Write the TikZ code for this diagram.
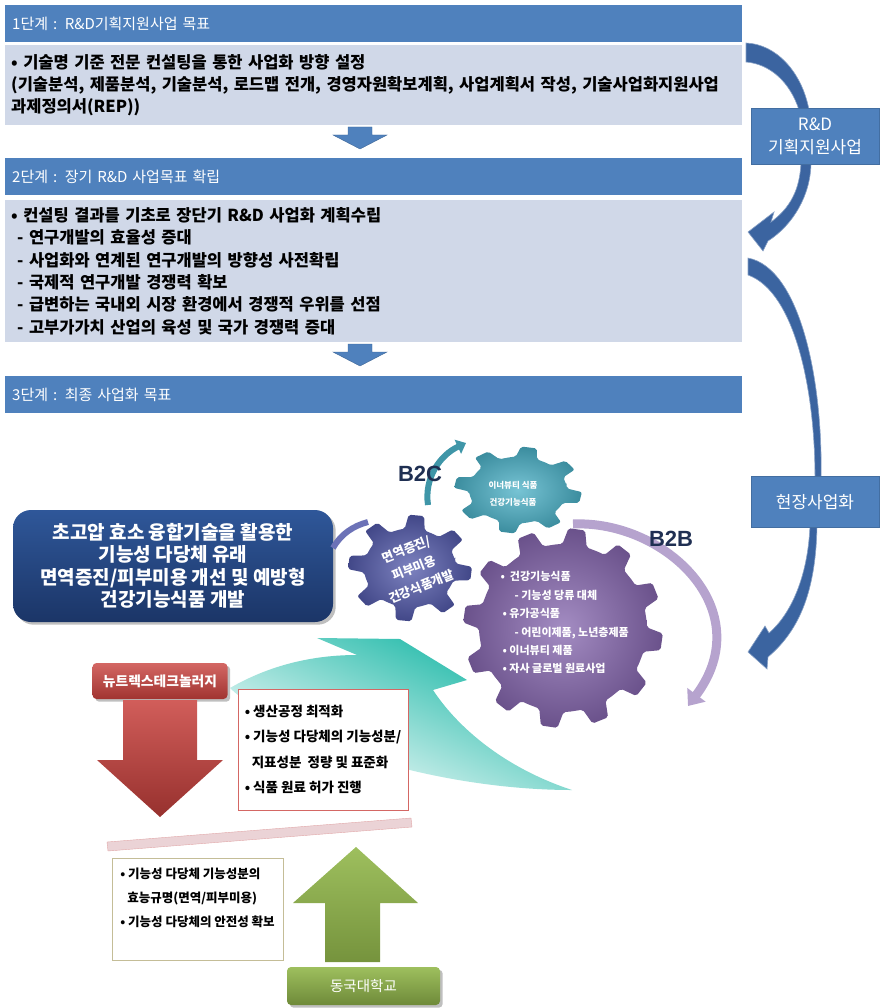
\documentclass[tikz,border=0pt]{standalone}
\usepackage{fontspec}
\setmainfont{Noto Sans CJK KR}
\newfontfamily\bizfont{Liberation Sans}
\usetikzlibrary{arrows.meta,shadows}

\definecolor{hdrblue}{HTML}{4F81BD}
\definecolor{boxgrey}{HTML}{D0D8E8}
\definecolor{bendblue}{HTML}{3B64A0}
\definecolor{navytop}{HTML}{2F5799}
\definecolor{navybot}{HTML}{1B3567}
\definecolor{cogblue}{HTML}{5259AA}
\definecolor{cogteal}{HTML}{4AB0C6}
\definecolor{cogpurple}{HTML}{8566AE}
\definecolor{mintteal}{HTML}{10B4A2}
\definecolor{bizink}{HTML}{1F2F52}
\definecolor{firmred}{HTML}{C9413D}
\definecolor{unigreen}{HTML}{93B84C}
\definecolor{barpink}{HTML}{EBD3D6}
\definecolor{olivegrey}{HTML}{C4BD97}

% gear outline: teeth, inner radius, outer radius, path options
\newcommand{\cog}[4]{%
  \pgfmathsetmacro{\cogstep}{360/#1}
  \path[#4] (0:#2) \foreach \k in {1,...,#1}{
      -- ({(\k-0.88)*\cogstep}:#2)
      -- ({(\k-0.76)*\cogstep}:#3)
      -- ({(\k-0.44)*\cogstep}:#3)
      -- ({(\k-0.32)*\cogstep}:#2)
      -- ({\k*\cogstep}:#2)
    } -- cycle;}

\begin{document}
\begin{tikzpicture}[x=1pt, y=-1pt,
  hdr/.style={fill=hdrblue, text=white, anchor=north west, text width=723pt,
    inner xsep=7pt, minimum height=37pt, align=left,
    font=\fontsize{15}{19}\selectfont},
  goal/.style={fill=boxgrey, anchor=north west, text width=725pt,
    inner xsep=6pt, align=left, font=\bfseries\fontsize{16.5}{22.3}\selectfont},
  side/.style={fill=hdrblue, draw=hdrblue!85!black, text=white, align=center,
    minimum width=128pt, font=\fontsize{17}{23}\selectfont},
  stagearrow/.style={fill=hdrblue, draw=hdrblue!80!black},
  bentarrow/.style={fill=bendblue, draw=bendblue!60!white, line width=.6pt},
  cogshade/.style={shade, inner color=#1!75!white, outer color=#1!80!black,
    rounded corners=2pt},
  biz/.style={text=bizink, font=\bizfont\bfseries\fontsize{22}{22}\selectfont},
  listbox/.style={fill=white, align=left, font=\bfseries\fontsize{13.5}{25.5}\selectfont}
]
\useasboundingbox (0,0) rectangle (881,1008);

% three stages
\node[hdr] (hd1) at (5,5) {1단계 : R\&D기획지원사업 목표};
\node[goal, minimum height=80pt] (goal1) at (5,45)
  {• 기술명 기준 전문 컨설팅을 통한 사업화 방향 설정\\
   (기술분석, 제품분석, 기술분석, 로드맵 전개, 경영자원확보계획, 사업계획서 작성, 기술사업화지원사업\\
   과제정의서(REP))};
\path[stagearrow] (348,127) -- (372,127) -- (372,135) -- (387,135) -- (360,149)
  -- (333,135) -- (348,135) -- cycle;
\node[hdr] (hd2) at (5,158) {2단계 : 장기 R\&D 사업목표 확립};
\node[goal, minimum height=142pt] (goal2) at (5,200)
  {• 컨설팅 결과를 기초로 장단기 R\&D 사업화 계획수립\\
   \hspace*{6pt}- 연구개발의 효율성 증대\\
   \hspace*{6pt}- 사업화와 연계된 연구개발의 방향성 사전확립\\
   \hspace*{6pt}- 국제적 연구개발 경쟁력 확보\\
   \hspace*{6pt}- 급변하는 국내외 시장 환경에서 경쟁적 우위를 선점\\
   \hspace*{6pt}- 고부가가치 산업의 육성 및 국가 경쟁력 증대};
\path[stagearrow] (348,344) -- (372,344) -- (372,352) -- (387,352) -- (360,366)
  -- (333,352) -- (348,352) -- cycle;
\node[hdr] (hd3) at (5,376) {3단계 : 최종 사업화 목표};

% bent arrows on the right
\path[bentarrow] (746,43) .. controls (776,44) and (802,72) .. (809,110) -- (799,110)
  .. controls (790,82) and (770,64) .. (746,62) -- cycle;
\path[bentarrow] (801,162) .. controls (800,190) and (790,208) .. (771,222) -- (774,212)
  -- (748,232) -- (763,251) -- (768,241) .. controls (793,225) and (811,195) .. (811,162) -- cycle;
\path[bentarrow] (748,258) .. controls (800,268) and (823,380) .. (821,478) -- (815,478)
  .. controls (815,390) and (795,292) .. (748,275) -- cycle;
\path[bentarrow] (810,525) .. controls (808,578) and (790,615) .. (769,633) -- (765,626)
  -- (748,652) -- (767,669) -- (768,657) .. controls (800,630) and (816,590) .. (817,525) -- cycle;
\node[side, minimum height=56pt] (rnd) at (815,136) {R\&D\\기획지원사업};
\node[side, minimum height=51pt] (field) at (815,502) {현장사업화};

% sweeping arrow behind the gears
\path[top color=mintteal, middle color=mintteal!45!white, bottom color=white,
  shading angle=-25]
  (317,638) -- (400,639) -- (467,680) -- (433,690)
  .. controls (458,728) and (505,768) .. (572,790)
  .. controls (440,790) and (290,745) .. (230,688)
  .. controls (275,662) and (320,655) .. (357,655) -- cycle;

\node[rounded corners=18pt, top color=navytop, bottom color=navybot, drop shadow,
  minimum width=320pt, minimum height=112pt, text=white, align=center,
  font=\bfseries\fontsize{19}{22.5}\selectfont] (aim) at (173,566)
  {초고압 효소 융합기술을 활용한\\기능성 다당체 유래\\면역증진/피부미용 개선 및 예방형\\건강기능식품 개발};
\draw[line width=6pt, cogblue!85!white] (333,548) .. controls (341,534) and (353,526) .. (368,522);

% gears
\begin{scope}[shift={(518,490)}, yscale=.68, rotate=8]
  \cog{8}{49}{64}{cogshade=cogteal}
\end{scope}
\begin{scope}[shift={(410,568)}, yscale=.86, rotate=12]
  \cog{8}{46}{62}{cogshade=cogblue}
\end{scope}
\begin{scope}[shift={(563,628)}, rotate=4]
  \cog{12}{84}{100}{cogshade=cogpurple}
\end{scope}
\node[text=white, rotate=22, align=center,
  font=\bfseries\fontsize{12.5}{20}\selectfont] (immune) at (414,568)
  {면역증진/\\피부미용\\건강식품개발};
\node[text=white, align=center, font=\bfseries\fontsize{8.5}{17}\selectfont]
  (beauty) at (513,494) {이너뷰티 식품\\건강기능식품};
\node[text=white, anchor=north west, align=left,
  font=\bfseries\fontsize{11}{18.4}\selectfont] (market) at (497,568)
  {•\ \ 건강기능식품\\
   \hspace*{14pt}- 기능성 당류 대체\\
   \hspace*{2pt}• 유가공식품\\
   \hspace*{14pt}- 어린이제품, 노년층제품\\
   \hspace*{2pt}• 이너뷰티 제품\\
   \hspace*{2pt}• 자사 글로벌 원료사업};

% B2C / B2B
\draw[line width=6pt, cogteal!85!black, -{Triangle[width=15pt,length=9pt]}]
  (428,505) .. controls (424,478) and (440,455) .. (466,443);
\draw[line width=9pt, cogpurple!60!white, -{Triangle[width=22pt,length=14pt]}]
  (573,524) .. controls (665,520) and (760,610) .. (688,706);
\node[biz] (b2c) at (420,474) {B2C};
\node[biz] (b2b) at (671,539) {B2B};

% company side
\node[rounded corners=4pt, top color=firmred!80!white, bottom color=firmred!80!black,
  drop shadow, minimum width=135pt, minimum height=36pt, text=white,
  font=\bfseries\fontsize{13.8}{15}\selectfont] (nutrex) at (160,681) {뉴트렉스테크놀러지};
\path[top color=firmred!85!white, bottom color=firmred!75!black]
  (123,700) -- (197,700) -- (197,760) -- (223,760) -- (160,817) -- (97,760)
  -- (123,760) -- cycle;
\node[listbox, draw=firmred!80, minimum width=170pt, minimum height=121pt]
  (process) at (323,749.5)
  {• 생산공정 최적화\\• 기능성 다당체의 기능성분/\\
   \hspace*{7pt}지표성분\ \ 정량 및 표준화\\• 식품 원료 허가 진행};
\path[fill=barpink, draw=barpink!70!firmred] (107,842) -- (411,818) -- (412,827)
  -- (108,851) -- cycle;

% university side
\node[listbox, draw=olivegrey, minimum width=171pt, minimum height=102pt,
  font=\bfseries\fontsize{12.5}{24}\selectfont] (assay) at (197.5,909)
  {• 기능성 다당체 기능성분의\\
   \hspace*{7pt}효능규명(면역/피부미용)\\
   • 기능성 다당체의 안전성 확보\\ };
\path[top color=unigreen!90!white, bottom color=unigreen!80!black]
  (356,847) -- (418,903) -- (380,903) -- (380,962) -- (325,962) -- (325,903)
  -- (293,903) -- cycle;
\node[rounded corners=4pt, top color=unigreen!90!white, bottom color=unigreen!75!black,
  drop shadow, minimum width=153pt, minimum height=38pt, text=white,
  font=\fontsize{14.5}{16}\selectfont] (dongguk) at (363.5,986) {동국대학교};
\end{tikzpicture}
\end{document}
